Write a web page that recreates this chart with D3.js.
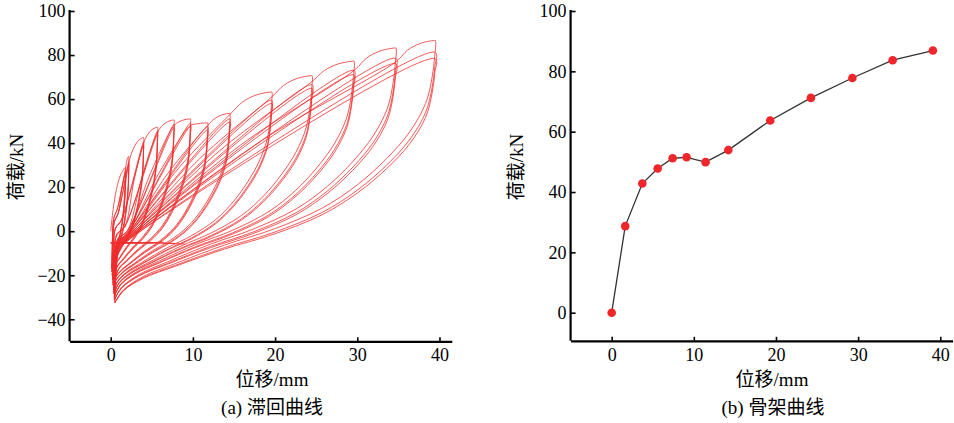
<!DOCTYPE html>
<html><head><meta charset="utf-8">
<script src="https://cdn.jsdelivr.net/npm/d3@7"></script>
<style>
html,body{margin:0;padding:0;background:#fff;}
svg{display:block;}
text{font-family:"Liberation Serif","Times New Roman","Noto Sans CJK SC",serif;fill:#000;}
</style></head><body>
<svg id="c" width="954" height="423"></svg>
<script>
// ---------------- data ----------------
const xTickVals = [0, 10, 20, 30, 40];
const yTickValsA = [-40, -20, 0, 20, 40, 60, 80, 100];
const yTickValsB = [0, 20, 40, 60, 80, 100];

// (b) skeleton curve
const skelDisp = [0, 1.65, 3.73, 5.6, 7.42, 9.12, 11.43, 14.2, 19.3, 24.25, 29.3, 34.2, 39.1];
const skelLoad = [0, 28.7, 42.8, 47.8, 51.2, 51.5, 49.9, 53.9, 63.7, 71.2, 77.8, 83.7, 86.9];

// (a) hysteresis: displacement levels, 3 cycles each
const ampDisp    = [1.8, 2.2, 4.0, 5.7, 7.7, 9.7, 11.8, 14.5, 19.6, 24.5, 29.6, 34.7, 39.5];
const peak1      = [29.0, 34.0, 42.5, 47.2, 50.5, 51.0, 49.2, 53.5, 63.2, 70.6, 77.2, 83.2, 86.6];
const peak2      = [27.5, 31.5, 40.5, 45.5, 48.5, 49.0, 47.5, 51.0, 59.5, 66.5, 73.0, 78.5, 81.2];
const peak3      = [26.5, 30.5, 39.0, 44.0, 47.0, 47.5, 46.0, 49.5, 58.0, 64.8, 71.0, 76.0, 78.3];
const kneeLoad   = [0, 28.0, 31.0, 40.0, 45.0, 48.0, 48.0, 48.0, 53.0, 61.0, 68.0, 73.0, 77.0];
const footDisp   = [0.8, 0.9, 1.3, 1.7, 2.0, 2.0, 2.0, 2.0, 2.0, 2.0, 2.0, 2.0, 2.0];
const footLoad   = [10, 8, 5, 2, 0, -1, -1.5, -2, -2.5, -3, -3.5, -4, -4.5];
const valleyDisp = [0.15, 0.18, 0.2, 0.25, 0.3, 0.3, 0.35, 0.35, 0.4, 0.4, 0.45, 0.45, 0.5];
const valleyLoad = [-17, -18.5, -20, -22, -23.5, -24.5, -25.5, -26.5, -27.5, -28.5, -29.5, -31, -32.5];
// first loading from origin
const firstDisp = [0, 0.3, 0.7, 1.2, 1.8];
const firstLoad = [0, 10, 19, 25.5, 29];
// unloading branch shape read from the largest loop (fraction of disp, fraction of load range)
const unloadU = [0.998, 0.99, 0.97, 0.92, 0.85, 0.76, 0.65, 0.5, 0.35, 0.2, 0.1, 0.04];
const unloadT = [0.94, 0.86, 0.76, 0.65, 0.55, 0.45, 0.36, 0.28, 0.22, 0.15, 0.1, 0.05];
// first-cycle loading: bend between foot and knee, then rounded top
const leadS = [0.5];
const leadR = [0.56];
const arcS = [0.3, 0.6, 0.85, 0.96];
const arcR = [0.55, 0.85, 0.97, 0.998];
// rising part near zero displacement
const riseS = [0.1, 0.35];
const riseR = [0.5, 0.85];
// flat run at about -5 kN
const flatEndDisp = [3.5, 5.2, 6.5, 7.8, 9.0];
const flatEndLoad = [-5.2, -5.4, -5.0, -5.5, -5.8];
const flatLoad = -5.3;

// ---------------- drawing ----------------
const svg = d3.select("#c");
const FS = 18;

function styleAxis(g){
  g.select(".domain").attr("stroke","#000").attr("stroke-width",2.2);
  g.selectAll(".tick line").attr("stroke","#000").attr("stroke-width",1.6);
  g.selectAll(".tick text").attr("font-size",FS).attr("font-family",'"Liberation Serif","Times New Roman",serif').attr("fill","#000");
}

// ---- panel (a)
const xA = d3.scaleLinear().domain([-5, 41.5]).range([69.6, 451.8]);
const yA = d3.scaleLinear().domain([-50, 100]).range([341.3, 11]);

const gAx = svg.append("g").attr("transform",`translate(0,${yA(-50)})`)
  .call(d3.axisBottom(xA).tickValues(xTickVals).tickSizeInner(-4).tickSizeOuter(0).tickPadding(7));
styleAxis(gAx);
const gAy = svg.append("g").attr("transform",`translate(${xA(-5)},0)`)
  .call(d3.axisLeft(yA).tickValues(yTickValsA).tickSizeInner(-5).tickSizeOuter(0).tickPadding(4));
styleAxis(gAy);
gAy.select(".domain").attr("d",`M0,${yA(-50)}V${yA(100)-1}`);

const lineA = d3.line().x(p=>xA(p[0])).y(p=>yA(p[1])).curve(d3.curveCatmullRom.alpha(0.5));

const hyst = svg.append("g").attr("fill","none").attr("stroke","#f02c2c").attr("stroke-width",0.85).attr("stroke-opacity",0.92);

for(let k=0;k<ampDisp.length;k++){
  const pts=[];
  const d=ampDisp[k], v=valleyLoad[k], xe=valleyDisp[k];
  const peaks=[peak1[k],peak2[k],peak3[k]];
  for(let c=0;c<3;c++){
    const P=peaks[c];
    if(k===0 && c===0){
      firstDisp.forEach((x,i)=>pts.push([x,firstLoad[i]]));
    } else {
      const sx=(c===0)?valleyDisp[k-1]:xe, sy=(c===0)?valleyLoad[k-1]:v;
      pts.push([sx,sy]);
      riseS.forEach((s,i)=>pts.push([sx+s*(footDisp[k]-sx), sy+riseR[i]*(footLoad[k]-sy)]));
      const fx=footDisp[k], fy=footLoad[k];
      pts.push([fx,fy]);
      if(c===0){
        const x0=ampDisp[k-1], y0=kneeLoad[k];
        leadS.forEach((s,i)=>pts.push([fx+s*(x0-fx), fy+leadR[i]*(y0-fy)]));
        pts.push([x0,y0]);
        arcS.forEach((s,i)=>pts.push([x0+s*(d-x0), y0+arcR[i]*(P-y0)]));
      }
      pts.push([d,P]);
    }
    unloadU.forEach((u,i)=>{
      const x=u*d;
      if(x>xe+0.12) pts.push([x, v+unloadT[i]*(P-v)]);
    });
    pts.push([xe,v]);
  }
  hyst.append("path").attr("d",lineA(pts));
}
flatEndDisp.forEach((x,i)=>{
  hyst.append("path").attr("d",d3.line().x(p=>xA(p[0])).y(p=>yA(p[1]))([[0.0,flatLoad],[x*0.6,flatLoad],[x,flatEndLoad[i]]]));
});

// labels (a)
svg.append("text").attr("transform",`translate(${23},${167}) rotate(-90)`).attr("text-anchor","middle")
  .attr("font-size",19).text("荷载/kN");
svg.append("text").attr("x",272).attr("y",386).attr("text-anchor","middle").attr("font-size",19).text("位移/mm");
svg.append("text").attr("x",272).attr("y",414).attr("text-anchor","middle").attr("font-size",19).text("(a) 滞回曲线");

// ---- panel (b)
const xB = d3.scaleLinear().domain([-5, 41.5]).range([570.6, 952.6]);
const yB = d3.scaleLinear().domain([0, 100]).range([312.7, 11]);
const yBottom = 340.8;

const gBx = svg.append("g").attr("transform",`translate(0,${yBottom})`)
  .call(d3.axisBottom(xB).tickValues(xTickVals).tickSizeInner(-4).tickSizeOuter(0).tickPadding(7));
styleAxis(gBx);
const gBy = svg.append("g").attr("transform",`translate(${xB(-5)},0)`)
  .call(d3.axisLeft(yB).tickValues(yTickValsB).tickSizeInner(-5).tickSizeOuter(0).tickPadding(4));
styleAxis(gBy);
gBy.select(".domain").attr("d",`M0,${yBottom}V${yB(100)-1}`);

const skel = skelDisp.map((x,i)=>[x,skelLoad[i]]);
svg.append("path").attr("d",d3.line().x(p=>xB(p[0])).y(p=>yB(p[1]))(skel))
  .attr("fill","none").attr("stroke","#333").attr("stroke-width",1.3);
svg.append("g").selectAll("circle").data(skel).join("circle")
  .attr("cx",p=>xB(p[0])).attr("cy",p=>yB(p[1])).attr("r",4.3).attr("fill","#f0262b");

svg.append("text").attr("transform",`translate(${523},${167}) rotate(-90)`).attr("text-anchor","middle")
  .attr("font-size",19).text("荷载/kN");
svg.append("text").attr("x",772).attr("y",386).attr("text-anchor","middle").attr("font-size",19).text("位移/mm");
svg.append("text").attr("x",773).attr("y",414).attr("text-anchor","middle").attr("font-size",19).text("(b) 骨架曲线");
</script>
</body></html>
